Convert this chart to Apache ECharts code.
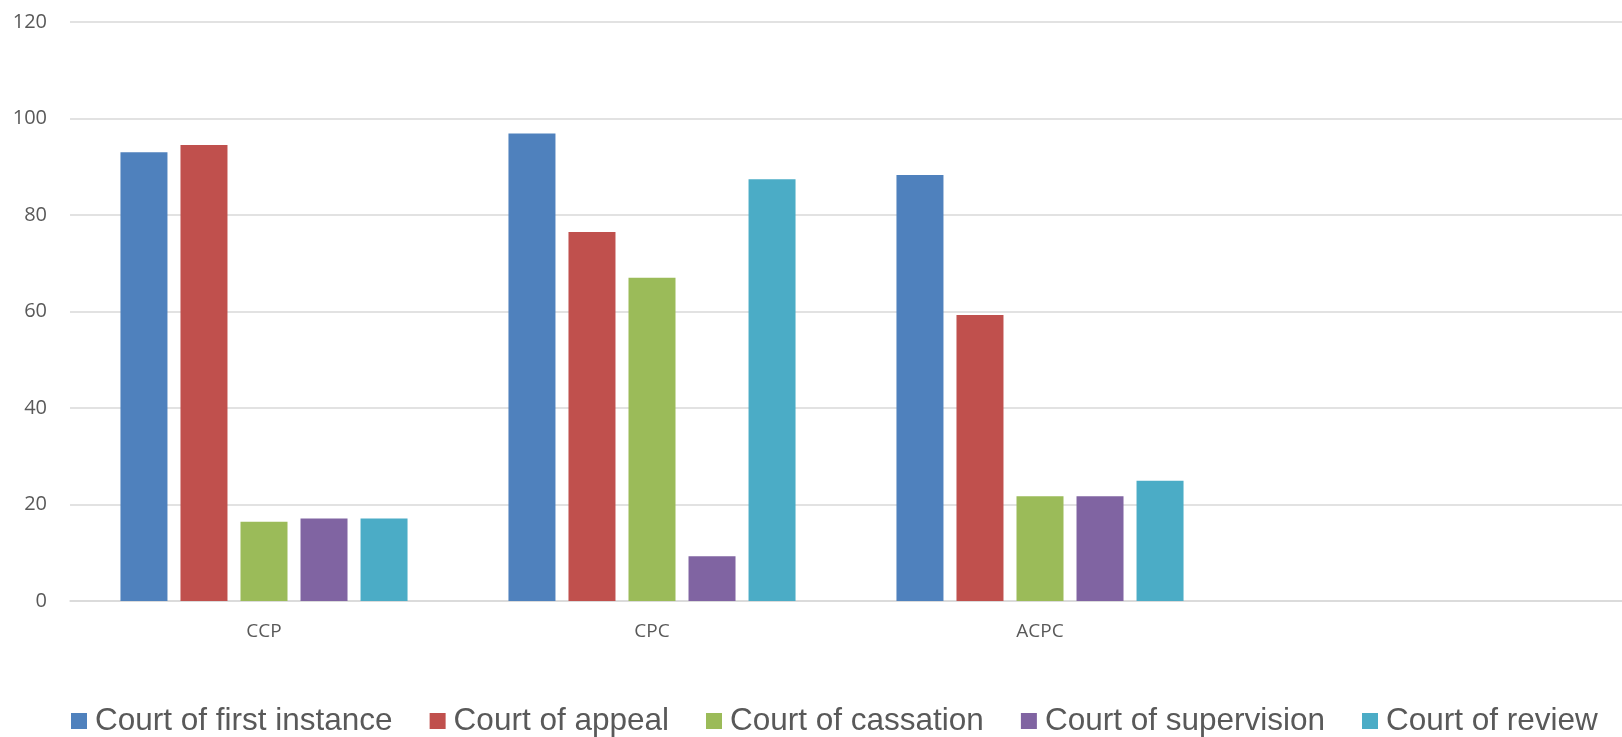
<!DOCTYPE html>
<html>
<head>
<meta charset="utf-8">
<script src="https://cdn.jsdelivr.net/npm/echarts@6/dist/echarts.min.js"></script>
<style>
  html, body { margin: 0; padding: 0; background: #ffffff; }
  #main { width: 1622px; height: 737px; }
</style>
</head>
<body>
<div id="main"></div>
<script>
// categories (the 4th slot is empty in the original)
var categories = ['CCP', 'CPC', 'ACPC', ''];
var seriesNames = ['Court of first instance', 'Court of appeal', 'Court of cassation', 'Court of supervision', 'Court of review'];
var firstInstance = [93, 96.9, 88.3, null];
var appeal = [94.5, 76.5, 59.3, null];
var cassation = [16.4, 67, 21.7, null];
var supervision = [17.1, 9.3, 21.7, null];
var review = [17.1, 87.4, 24.9, null];
var yTicks = [0, 20, 40, 60, 80, 100, 120];
var colors = ['#4F81BD', '#C0504D', '#9BBB59', '#8064A2', '#4BACC6'];

var myChart = echarts.init(document.getElementById('main'));
var allValues = [firstInstance, appeal, cassation, supervision, review];
var series = [];
seriesNames.forEach(function (name, i) {
    series.push({
        name: name,
        type: 'bar',
        barWidth: 47,
        barGap: '27.7%',
        itemStyle: { color: colors[i] },
        data: allValues[i]
    });
});

var option = {
    animation: false,
    backgroundColor: '#ffffff',
    color: colors,
    grid: {
        left: 70,
        right: -8,
        top: 22,
        bottom: 136,
        containLabel: false
    },
    legend: {
        left: 71,
        bottom: 0,
        width: 1548,
        padding: 0,
        itemWidth: 16,
        itemHeight: 16,
        itemGap: 37,
        icon: 'rect',
        textStyle: {
            fontFamily: 'Liberation Sans',
            fontSize: 31.5,
            color: '#595959',
            padding: [0, 0, 0, 3]
        },
        data: seriesNames
    },
    xAxis: {
        type: 'category',
        data: categories,
        axisTick: { show: false },
        axisLine: { lineStyle: { color: '#d9d9d9', width: 1.5 } },
        axisLabel: {
            margin: 21,
            fontFamily: 'Open Sans',
            fontSize: 19,
            color: '#595959'
        }
    },
    yAxis: {
        type: 'value',
        min: yTicks[0],
        max: yTicks[yTicks.length - 1],
        interval: 20,
        axisLine: { show: false },
        axisTick: { show: false },
        axisLabel: {
            margin: 23,
            fontFamily: 'Open Sans',
            fontSize: 20,
            color: '#595959'
        },
        splitLine: { lineStyle: { color: '#d9d9d9', width: 1.5 } }
    },
    series: series
};
myChart.setOption(option);
</script>
</body>
</html>
